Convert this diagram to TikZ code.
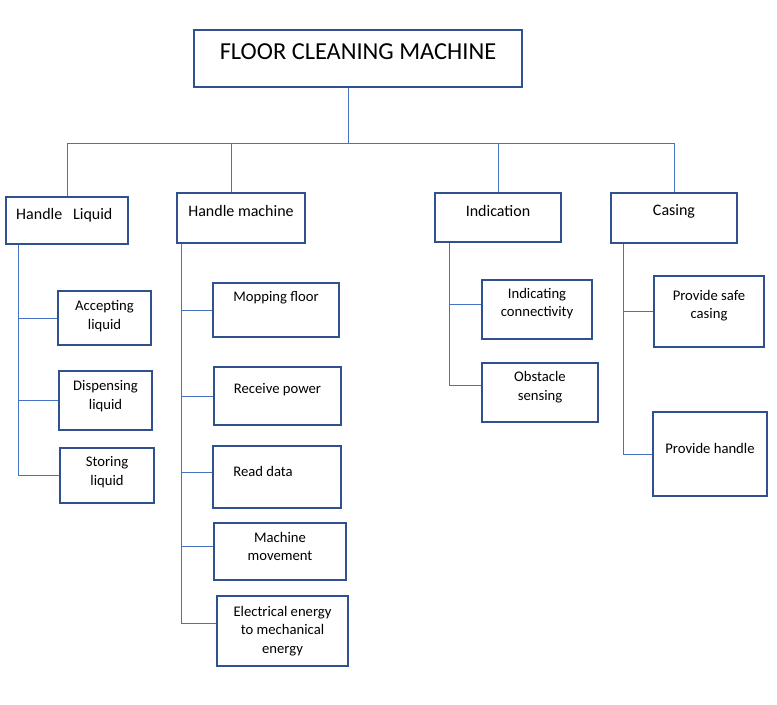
\documentclass[tikz,border=0pt]{standalone}
\usepackage{fontspec}
\setmainfont{Carlito}
\definecolor{boxblue}{RGB}{47,82,143}
\definecolor{lineblue}{RGB}{68,114,196}
\usetikzlibrary{fit}

\begin{document}
\begin{tikzpicture}[x=0.75pt,y=-0.75pt,
    every node/.style={font=\fontsize{11}{14}\selectfont},
    box/.style={draw=boxblue,line width=1pt,inner sep=0pt},
    txt/.style={align=center,text=black},
    head/.style={txt,font=\fontsize{12}{14}\selectfont},
    link/.style={draw=lineblue,line width=0.75pt}]
  \useasboundingbox (0,0) rectangle (777,704);
  % top
  \node[box,fit={(194,30) (522,87)},label={[txt,font=\fontsize{18.3}{21}\selectfont,yshift=4.9pt]center:FLOOR CLEANING MACHINE}] (machine) {};
  % first level
  \node[box,fit={(6,197) (128,244)},label={[head,yshift=4.1pt,xshift=-2pt]center:Handle\ \ \ Liquid}] (liquid) {};
  \node[box,fit={(177,193) (305,243)},label={[head,yshift=5.3pt]center:Handle machine}] (handle) {};
  \node[box,fit={(435,193) (561,242)},label={[head,yshift=4.9pt]center:Indication}] (indic) {};
  \node[box,fit={(611,193) (737,243)},label={[head,yshift=5.3pt]center:Casing}] (casing) {};
  % handle liquid
  \node[box,fit={(58,291) (151,345)},label={[txt,yshift=1.5pt]center:{Accepting\\liquid}}] (accept) {};
  \node[box,fit={(59,371) (152,430)},label={[txt,yshift=3.4pt]center:{Dispensing\\liquid}}] (dispense) {};
  \node[box,fit={(60,448) (154,503)},label={[txt,yshift=2.6pt]center:{Storing\\liquid}}] (store) {};
  % handle machine
  \node[box,fit={(213,283) (339,337)},label={[txt,yshift=9pt]center:Mopping floor}] (mop) {};
  \node[box,fit={(214,367) (341,425)},label={[txt,yshift=4.5pt]center:Receive power}] (power) {};
  \node[box,fit={(213,446) (341,508)},label={[txt,yshift=4.5pt,xshift=-10.5pt]center:Read data}] (readdata) {};
  \node[box,fit={(214,523) (346,580)},label={[txt,yshift=3.8pt]center:{Machine\\movement}}] (movement) {};
  \node[box,fit={(217,596) (348,666)},label={[txt]center:{Electrical energy\\to mechanical\\energy}}] (energy) {};
  % indication
  \node[box,fit={(482,280) (592,339)},label={[txt,yshift=4.5pt]center:{Indicating\\connectivity}}] (connect) {};
  \node[box,fit={(482,363) (598,422)},label={[txt,yshift=3.8pt]center:{Obstacle\\sensing}}] (obstacle) {};
  % casing
  \node[box,fit={(654,276) (764,347)},label={[txt,yshift=4.5pt]center:{Provide safe\\casing}}] (safe) {};
  \node[box,fit={(653,412) (767,496)},label={[txt,yshift=4.5pt]center:Provide handle}] (grip) {};

  \coordinate (bus) at (348,143);
  \draw[link] (machine.south -| bus) -- (bus);
  \draw[link] (bus) -| (liquid.north);
  \draw[link] (bus) -| ([xshift=-7.5pt]handle.north);
  \draw[link] (bus) -| (indic.north);
  \draw[link] (bus) -| (casing.north);

  \draw[link] ([xshift=9.75pt]liquid.south west) |- (accept.west);
  \draw[link] ([xshift=9.75pt]liquid.south west) |- (dispense.west);
  \draw[link] ([xshift=9.75pt]liquid.south west) |- (store.west);
  \draw[link] ([xshift=3.75pt]handle.south west) |- (mop.west);
  \draw[link] ([xshift=3.75pt]handle.south west) |- (power.west);
  \draw[link] ([xshift=3.75pt]handle.south west) |- ([yshift=3.75pt]readdata.west);
  \draw[link] ([xshift=3.75pt]handle.south west) |- ([yshift=3.4pt]movement.west);
  \draw[link] ([xshift=3.75pt]handle.south west) |- ([yshift=6pt]energy.west);
  \draw[link] ([xshift=11.25pt]indic.south west) |- ([yshift=3.4pt]connect.west);
  \draw[link] ([xshift=11.25pt]indic.south west) |- ([yshift=5.6pt]obstacle.west);
  \draw[link] ([xshift=9.75pt]casing.south west) |- (safe.west);
  \draw[link] ([xshift=9.75pt]casing.south west) |- (grip.west);
\end{tikzpicture}
\end{document}
